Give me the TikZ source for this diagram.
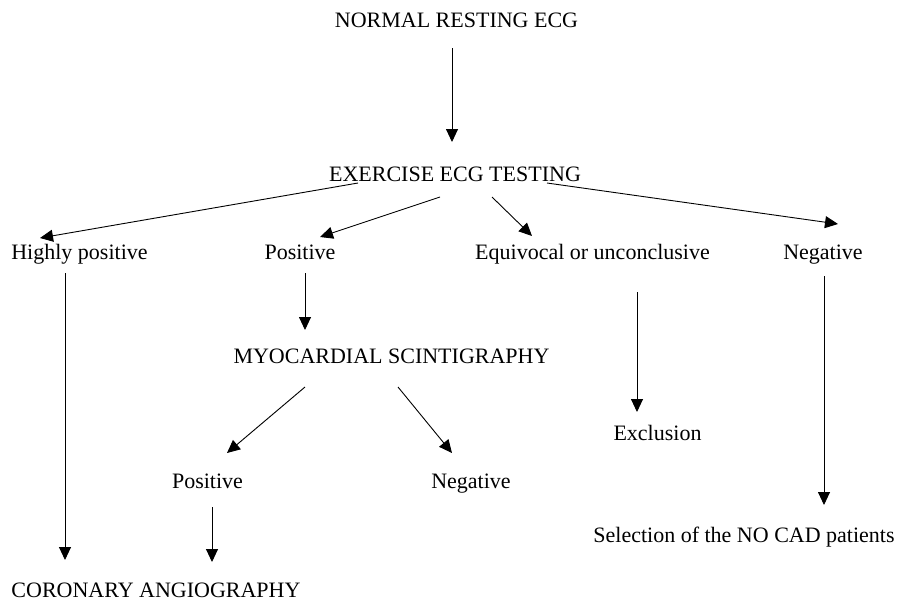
\documentclass[tikz,border=0pt]{standalone}
\usepackage{fontspec}
\setmainfont{Liberation Serif}
\usetikzlibrary{arrows.meta}
\begin{document}
\begin{tikzpicture}[x=1pt,y=-1pt,
  lbl/.style={anchor=base,inner sep=0pt,font=\fontsize{22}{26}\selectfont},
  arr/.style={line width=0.9pt,-{Triangle[length=13pt,width=12pt]}}]
\useasboundingbox (0,0) rectangle (899,600);
\fill[white] (0,0) rectangle (899,600);
\node[lbl] (normal) at (456.5,27) {NORMAL RESTING ECG};
\node[lbl] (exercise) at (455,181) {EXERCISE ECG TESTING};
\node[lbl] (highly) at (79.5,259) {Highly positive};
\node[lbl] (pos1) at (300,259) {Positive};
\node[lbl] (equiv) at (592.5,259) {Equivocal or unconclusive};
\node[lbl] (neg1) at (823,259) {Negative};
\node[lbl] (myo) at (391.5,363) {MYOCARDIAL SCINTIGRAPHY};
\node[lbl] (pos2) at (207.5,488) {Positive};
\node[lbl] (neg2) at (471,488) {Negative};
\node[lbl] (excl) at (657.5,440) {Exclusion};
\node[lbl] (sel) at (744,542) {Selection of the NO CAD patients};
\node[lbl] (coro) at (156,597) {CORONARY ANGIOGRAPHY};

\draw[arr] ([shift={(-4.5,21)}]normal.base) -- ([shift={(-3,-39)}]exercise.base);
\draw[arr] ([shift={(-97,2)}]exercise.base) -- ([shift={(-39.5,-21)}]highly.base);
\draw[arr] ([shift={(-15,16)}]exercise.base) -- ([shift={(20,-22)}]pos1.base);
\draw[arr] ([shift={(37,16)}]exercise.base) -- ([shift={(-60.5,-23)}]equiv.base);
\draw[arr] ([shift={(92,2)}]exercise.base) -- ([shift={(15,-35)}]neg1.base);
\draw[arr] ([shift={(-14.5,14)}]highly.base) -- ([shift={(-91,-37)}]coro.base);
\draw[arr] ([shift={(5,14)}]pos1.base) -- ([shift={(-86.5,-33)}]myo.base);
\draw[arr] ([shift={(-86.5,24)}]myo.base) -- ([shift={(19.5,-35)}]pos2.base);
\draw[arr] ([shift={(6.5,24)}]myo.base) -- ([shift={(-19,-35)}]neg2.base);
\draw[arr] ([shift={(44.5,33)}]equiv.base) -- ([shift={(-20.5,-28)}]excl.base);
\draw[arr] ([shift={(1,17)}]neg1.base) -- ([shift={(80,-37)}]sel.base);
\draw[arr] ([shift={(4.5,19)}]pos2.base) -- ([shift={(56,-35)}]coro.base);
\end{tikzpicture}
\end{document}
